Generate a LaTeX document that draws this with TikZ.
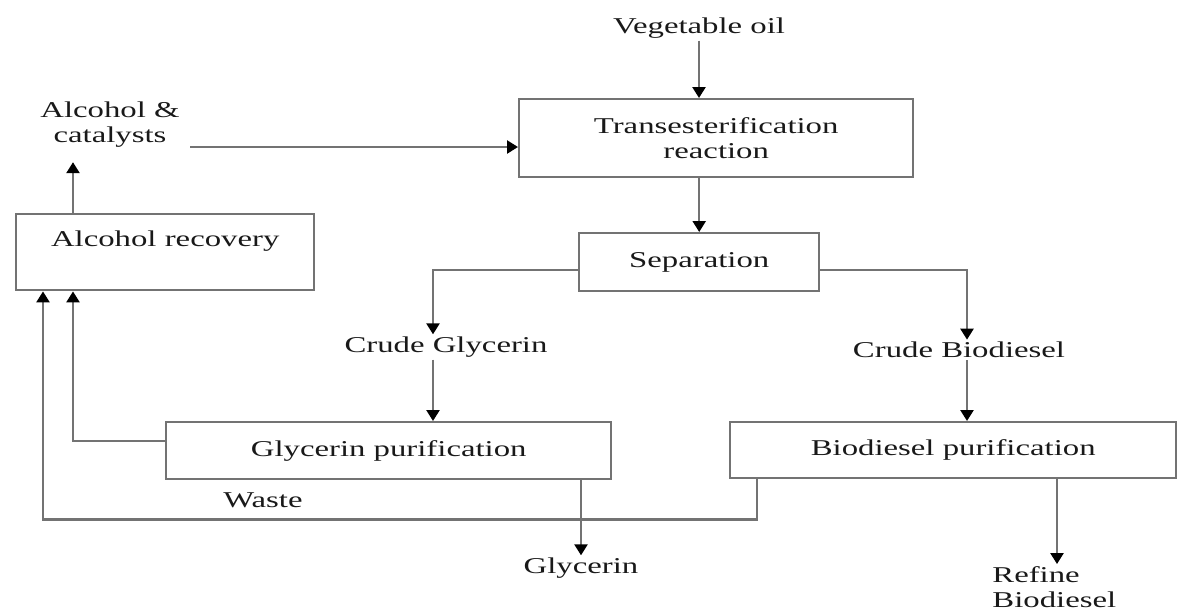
\documentclass[tikz,border=0pt]{standalone}
\usepackage{fontspec}
\setmainfont[FakeStretch=1.45]{Liberation Serif}
\usetikzlibrary{arrows.meta,calc}
\begin{document}
\begin{tikzpicture}[x=0.5pt,y=-0.5pt,
  font=\fontsize{11.3}{12.5}\selectfont,
  box/.style={draw=black!55, line width=1.2pt, inner sep=0pt, anchor=north west, align=center, text=black!90},
  lbl/.style={inner sep=1pt, align=center, text=black!90},
  conn/.style={draw=black!55, line width=1.2pt, -{Triangle[length=5.5pt,width=6.5pt,color=black]}},
  wire/.style={draw=black!55, line width=1.2pt}]
\useasboundingbox (0,0) rectangle (1177,612);

% boxes
\node[box, minimum width=197pt, minimum height=39pt] (tr) at (518,98) {Transesterification\\reaction};
\node[box, minimum width=120pt, minimum height=29pt] (sep) at (578,232) {Separation};
\node[box, minimum width=149pt, text height=16pt, text depth=22pt] (ar) at (15,213) {Alcohol recovery};
\node[box, minimum width=222.5pt, minimum height=28.5pt] (gp) at (165,421) {Glycerin purification};
\node[box, minimum width=223pt, minimum height=28pt] (bp) at (729,421) {Biodiesel purification};

% labels
\node[lbl] (veg) at (699,28) {Vegetable oil};
\node[lbl] (ac) at (110,125) {Alcohol \&\\catalysts};
\node[lbl] (cg) at (446,347) {Crude Glycerin};
\node[lbl] (cb) at (959,350) {Crude Biodiesel};
\node[lbl] (gly) at (581,568) {Glycerin};
\node[lbl, anchor=west, align=left] (rb) at (990,587) {Refine\\Biodiesel};
\node[lbl] (waste) at (263,500) {Waste};

% connectors
\draw[conn] (veg.south) -- (veg.south |- tr.north);
\draw[conn] (sep.north |- tr.south) -- (sep.north);
\draw[conn] ([yshift=-4pt]sep.west) -| ([xshift=-6.5pt]cg.north);
\draw[conn] ([yshift=-4pt]sep.east) -| ([xshift=4pt]cb.north);
\draw[conn] ([xshift=-6.5pt]cg.south) -- ([xshift=-6.5pt]cg.south |- gp.north);
\draw[conn] ([xshift=4pt]cb.south) -- ([xshift=4pt]cb.south |- bp.north);
\draw[conn] ([yshift=4.75pt]gp.west) -| ([xshift=29pt]ar.south west);
\draw[conn] ([xshift=14pt]bp.south west) -- ++(0,40) -| ([xshift=14pt]ar.south west);
\draw[conn, shorten >=6pt] ([xshift=29pt]ar.north west) -- ([xshift=29pt]ar.north west |- ac.south);
\draw[conn, shorten <=4pt] ([yshift=-11pt]ac.east) -- ([yshift=-11pt]ac.east -| tr.west);
\draw[conn] (gly.north |- gp.south) -- (gly.north);
\draw[conn] ([xshift=33.5pt]rb.north west |- bp.south) -- ([xshift=33.5pt]rb.north west);
\end{tikzpicture}
\end{document}
